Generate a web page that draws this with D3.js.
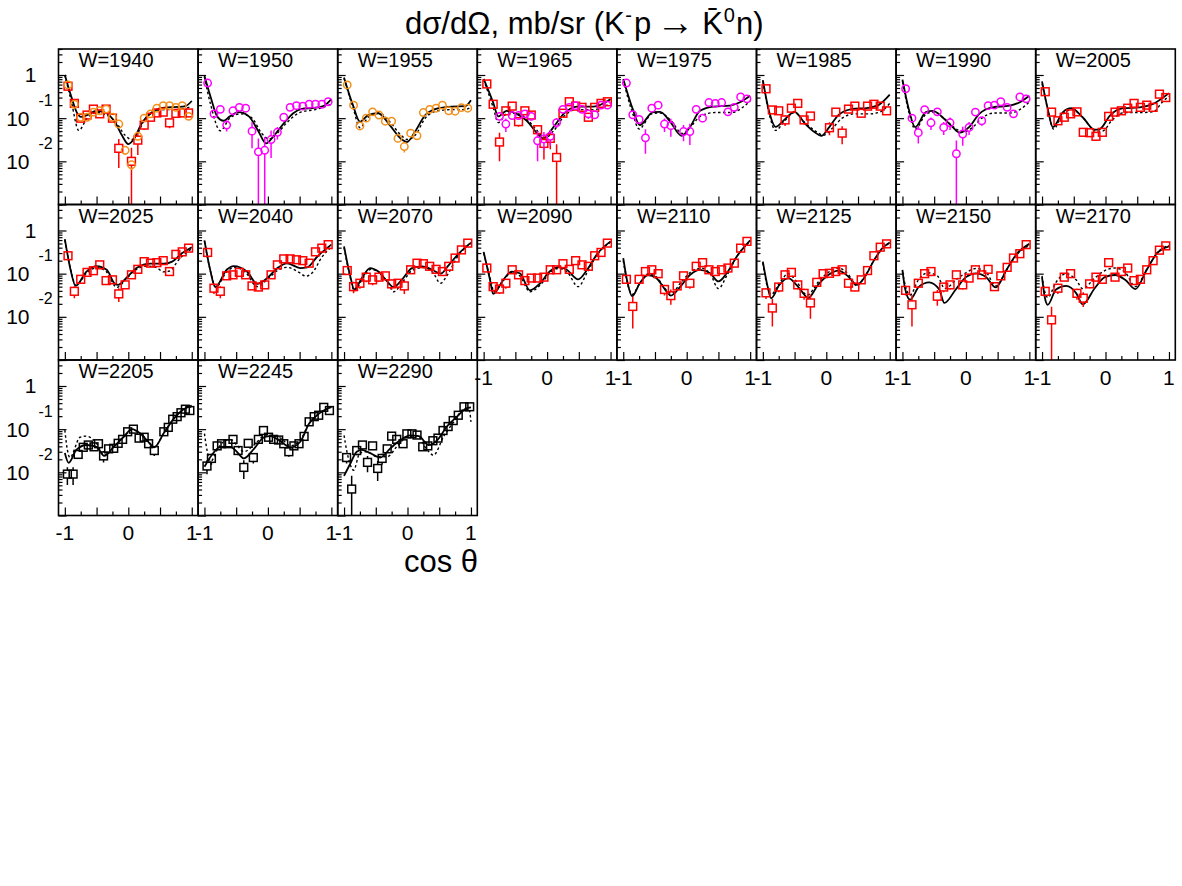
<!DOCTYPE html>
<html><head><meta charset="utf-8">
<script src="https://cdn.jsdelivr.net/npm/d3@7"></script>
<style>
body{margin:0;background:#fff}
svg{display:block}
text{font-family:"Liberation Sans",Arial,Helvetica,sans-serif;fill:#000}
</style>
</head><body>
<svg id="c" width="1182" height="886"></svg>
<script>
// ---------- DATA: [cos theta, dsigma/dOmega (mb/sr), error] ----------
const energies = ["1940","1950","1955","1965","1975","1985","1990","2005","2025","2040","2070","2090","2110","2125","2150","2170","2205","2245","2290"];

const red1940 = [[-0.95,0.55,0.08],[-0.85,0.22,0.03],[-0.75,0.10,0.02],[-0.65,0.118,0.02],[-0.55,0.162,0.025],[-0.45,0.126,0.025],[-0.35,0.162,0.025],[-0.25,0.10,0.015],[-0.15,0.020,0.013],[0.05,0.010,0.0105],[0.15,0.031,0.017],[0.25,0.069,0.015],[0.35,0.105,0.02],[0.45,0.132,0.02],[0.55,0.138,0.025],[0.65,0.078,0.02],[0.75,0.129,0.02],[0.85,0.132,0.02],[0.95,0.132,0.02]];
const orn1940 = [[-0.95,0.59,0.05],[-0.85,0.21,0.02],[-0.75,0.105,0.01],[-0.65,0.105,0.01],[-0.55,0.138,0.012],[-0.45,0.148,0.012],[-0.35,0.162,0.012],[-0.25,0.105,0.01],[-0.15,0.073,0.008],[-0.05,0.018,0.004],[0.05,0.0083,0.002],[0.15,0.038,0.005],[0.25,0.10,0.01],[0.35,0.126,0.01],[0.45,0.17,0.012],[0.55,0.195,0.015],[0.65,0.195,0.015],[0.75,0.178,0.015],[0.85,0.195,0.015],[0.95,0.11,0.01]];
const sol1940 = [[-1,1.0],[-0.9,0.32],[-0.8,0.126],[-0.75,0.107],[-0.65,0.118],[-0.5,0.148],[-0.35,0.132],[-0.2,0.076],[-0.1,0.04],[0,0.025],[0.1,0.035],[0.2,0.071],[0.3,0.112],[0.45,0.158],[0.6,0.178],[0.8,0.182],[0.9,0.19],[1,0.25]];
const dsh1940 = [[-1,1.0],[-0.9,0.25],[-0.78,0.052],[-0.65,0.1],[-0.5,0.135],[-0.35,0.12],[-0.2,0.083],[-0.05,0.04],[0.05,0.032],[0.15,0.045],[0.25,0.089],[0.4,0.138],[0.6,0.158],[0.8,0.158],[1,0.19]];

const mag1950 = [[-0.95,0.65,0.06],[-0.85,0.126,0.02],[-0.75,0.16,0.02],[-0.65,0.069,0.02],[-0.55,0.148,0.02],[-0.45,0.178,0.02],[-0.35,0.17,0.02],[-0.25,0.05,0.03],[-0.15,0.0166,0.017],[-0.05,0.018,0.0185],[0.05,0.032,0.02],[0.15,0.047,0.015],[0.25,0.105,0.02],[0.35,0.178,0.02],[0.45,0.195,0.02],[0.55,0.19,0.02],[0.65,0.21,0.02],[0.75,0.21,0.02],[0.85,0.21,0.02],[0.95,0.24,0.02]];
const sol1950 = [[-1,0.95],[-0.9,0.3],[-0.8,0.11],[-0.7,0.087],[-0.6,0.11],[-0.46,0.138],[-0.3,0.11],[-0.15,0.05],[-0.03,0.026],[0.1,0.04],[0.26,0.079],[0.4,0.13],[0.52,0.162],[0.78,0.178],[0.9,0.2],[1,0.275]];
const dsh1950 = [[-1,0.9],[-0.9,0.2],[-0.75,0.051],[-0.6,0.1],[-0.43,0.126],[-0.25,0.1],[-0.1,0.045],[0.02,0.033],[0.15,0.045],[0.3,0.079],[0.5,0.135],[0.78,0.162],[1,0.21]];

const orn1955 = [[-0.95,0.59,0.05],[-0.85,0.20,0.02],[-0.75,0.066,0.008],[-0.65,0.10,0.01],[-0.55,0.14,0.012],[-0.45,0.118,0.01],[-0.35,0.085,0.008],[-0.25,0.085,0.008],[-0.15,0.034,0.005],[-0.05,0.022,0.006],[0.05,0.045,0.006],[0.15,0.039,0.006],[0.25,0.135,0.012],[0.35,0.16,0.012],[0.45,0.17,0.012],[0.55,0.20,0.015],[0.65,0.148,0.012],[0.75,0.145,0.012],[0.85,0.175,0.012],[0.95,0.17,0.012]];
const sol1955 = [[-1,0.87],[-0.86,0.2],[-0.75,0.083],[-0.62,0.118],[-0.46,0.13],[-0.28,0.069],[-0.09,0.032],[-0.01,0.028],[0.12,0.049],[0.28,0.118],[0.49,0.17],[0.7,0.186],[0.91,0.19],[1,0.26]];
const dsh1955 = [[-1,0.83],[-0.85,0.16],[-0.75,0.06],[-0.62,0.105],[-0.45,0.132],[-0.28,0.083],[-0.1,0.04],[0,0.032],[0.12,0.04],[0.28,0.1],[0.45,0.145],[0.7,0.158],[0.9,0.158],[1,0.178]];

const red1965 = [[-0.95,0.62,0.06],[-0.85,0.21,0.03],[-0.75,0.028,0.018],[-0.65,0.148,0.03],[-0.55,0.19,0.03],[-0.45,0.083,0.02],[-0.35,0.148,0.025],[-0.25,0.118,0.02],[-0.15,0.054,0.015],[-0.05,0.026,0.015],[0.05,0.034,0.015],[0.15,0.0123,0.0125],[0.25,0.13,0.02],[0.35,0.24,0.03],[0.45,0.19,0.03],[0.55,0.178,0.025],[0.65,0.105,0.02],[0.75,0.178,0.025],[0.85,0.22,0.03],[0.95,0.24,0.03]];
const mag1965 = [[-0.75,0.11,0.02],[-0.65,0.073,0.025],[-0.55,0.115,0.02],[-0.45,0.115,0.02],[-0.35,0.126,0.02],[-0.25,0.11,0.02],[-0.15,0.030,0.02],[-0.05,0.033,0.015],[0.05,0.038,0.015],[0.15,0.079,0.02],[0.25,0.16,0.02],[0.35,0.178,0.02],[0.45,0.195,0.02],[0.55,0.16,0.02],[0.65,0.126,0.03],[0.75,0.12,0.02],[0.85,0.2,0.02],[0.95,0.2,0.02]];
const sol1965 = [[-1,0.81],[-0.85,0.23],[-0.77,0.11],[-0.64,0.148],[-0.48,0.126],[-0.32,0.087],[-0.17,0.047],[-0.06,0.034],[0.1,0.062],[0.26,0.126],[0.47,0.186],[0.73,0.186],[1,0.275]];
const dsh1965 = [[-1,0.79],[-0.85,0.178],[-0.77,0.079],[-0.62,0.132],[-0.45,0.126],[-0.3,0.089],[-0.15,0.05],[-0.03,0.035],[0.1,0.05],[0.27,0.112],[0.47,0.158],[0.73,0.158],[1,0.22]];

const mag1975 = [[-0.95,0.65,0.06],[-0.85,0.12,0.02],[-0.75,0.093,0.015],[-0.65,0.035,0.02],[-0.55,0.17,0.02],[-0.45,0.20,0.02],[-0.35,0.073,0.025],[-0.25,0.067,0.03],[-0.05,0.049,0.02],[0.05,0.049,0.025],[0.15,0.16,0.03],[0.25,0.10,0.02],[0.35,0.23,0.02],[0.45,0.22,0.02],[0.55,0.23,0.02],[0.65,0.14,0.02],[0.75,0.178,0.02],[0.85,0.31,0.03],[0.95,0.28,0.03]];
const sol1975 = [[-1,0.81],[-0.85,0.162],[-0.74,0.069],[-0.53,0.138],[-0.42,0.14],[-0.27,0.087],[-0.08,0.039],[0.05,0.062],[0.21,0.148],[0.42,0.186],[0.68,0.195],[0.84,0.234],[1,0.33]];
const dsh1975 = [[-1,0.76],[-0.85,0.126],[-0.75,0.056],[-0.55,0.126],[-0.42,0.132],[-0.25,0.089],[-0.07,0.044],[0.05,0.06],[0.22,0.112],[0.45,0.135],[0.7,0.135],[1,0.25]];

const red1985 = [[-0.95,0.48,0.06],[-0.85,0.155,0.025],[-0.75,0.148,0.025],[-0.65,0.091,0.025],[-0.55,0.17,0.025],[-0.45,0.22,0.03],[-0.35,0.091,0.02],[-0.25,0.112,0.02],[0.05,0.06,0.02],[0.15,0.138,0.025],[0.25,0.045,0.02],[0.35,0.162,0.025],[0.45,0.19,0.03],[0.55,0.13,0.02],[0.65,0.19,0.03],[0.75,0.21,0.03],[0.85,0.19,0.03],[0.95,0.148,0.025]];
const sol1985 = [[-1,0.76],[-0.9,0.14],[-0.8,0.063],[-0.65,0.095],[-0.5,0.14],[-0.34,0.076],[-0.18,0.047],[-0.08,0.039],[0.05,0.063],[0.19,0.118],[0.4,0.162],[0.66,0.174],[0.82,0.2],[1,0.35]];
const dsh1985 = [[-1,0.71],[-0.9,0.126],[-0.8,0.052],[-0.65,0.089],[-0.5,0.135],[-0.34,0.079],[-0.15,0.048],[-0.05,0.04],[0.1,0.059],[0.25,0.1],[0.45,0.126],[0.7,0.126],[0.85,0.14],[1,0.22]];

const mag1990 = [[-0.95,0.48,0.05],[-0.85,0.10,0.02],[-0.75,0.046,0.02],[-0.65,0.158,0.02],[-0.55,0.078,0.025],[-0.45,0.14,0.02],[-0.35,0.061,0.02],[-0.25,0.078,0.025],[-0.15,0.015,0.0152],[-0.05,0.043,0.02],[0.05,0.061,0.02],[0.15,0.138,0.02],[0.25,0.087,0.02],[0.35,0.195,0.02],[0.45,0.20,0.02],[0.55,0.24,0.02],[0.65,0.178,0.02],[0.75,0.126,0.025],[0.85,0.31,0.03],[0.95,0.28,0.03]];
const sol1990 = [[-1,0.78],[-0.9,0.162],[-0.8,0.062],[-0.63,0.138],[-0.52,0.148],[-0.37,0.105],[-0.21,0.062],[-0.1,0.046],[0.05,0.062],[0.21,0.126],[0.42,0.178],[0.69,0.195],[0.85,0.234],[1,0.33]];
const dsh1990 = [[-1,0.71],[-0.9,0.14],[-0.8,0.056],[-0.62,0.126],[-0.5,0.138],[-0.35,0.1],[-0.18,0.06],[-0.05,0.048],[0.1,0.06],[0.25,0.1],[0.45,0.132],[0.7,0.132],[0.85,0.158],[1,0.24]];

const red2005 = [[-0.95,0.41,0.05],[-0.85,0.138,0.02],[-0.75,0.087,0.015],[-0.65,0.105,0.015],[-0.55,0.126,0.02],[-0.45,0.14,0.02],[-0.35,0.047,0.008],[-0.25,0.046,0.008],[-0.15,0.038,0.008],[-0.05,0.047,0.008],[0.05,0.11,0.015],[0.15,0.138,0.02],[0.25,0.148,0.02],[0.35,0.17,0.02],[0.45,0.22,0.025],[0.55,0.178,0.02],[0.65,0.20,0.025],[0.75,0.178,0.02],[0.85,0.36,0.04],[0.95,0.30,0.035]];
const sol2005 = [[-1,0.71],[-0.91,0.162],[-0.83,0.062],[-0.67,0.138],[-0.54,0.17],[-0.36,0.105],[-0.17,0.054],[-0.09,0.056],[0.07,0.115],[0.28,0.17],[0.54,0.178],[0.75,0.214],[1,0.38]];
const dsh2005 = [[-1,0.63],[-0.9,0.14],[-0.82,0.056],[-0.67,0.126],[-0.52,0.158],[-0.35,0.1],[-0.15,0.05],[-0.05,0.05],[0.1,0.089],[0.3,0.135],[0.55,0.135],[0.75,0.14],[0.9,0.24],[1,0.32]];

const red2025 = [[-0.95,0.26,0.04],[-0.85,0.039,0.012],[-0.75,0.074,0.015],[-0.65,0.107,0.015],[-0.55,0.117,0.015],[-0.45,0.16,0.02],[-0.35,0.069,0.012],[-0.25,0.072,0.012],[-0.15,0.034,0.012],[-0.05,0.055,0.01],[0.05,0.094,0.015],[0.15,0.126,0.015],[0.25,0.19,0.02],[0.35,0.175,0.02],[0.45,0.18,0.02],[0.55,0.20,0.02],[0.65,0.112,0.015],[0.75,0.28,0.03],[0.85,0.32,0.03],[0.95,0.39,0.04]];
const sol2025 = [[-1,0.63],[-0.91,0.123],[-0.83,0.052],[-0.66,0.112],[-0.5,0.15],[-0.34,0.123],[-0.21,0.058],[-0.16,0.055],[-0.02,0.083],[0.13,0.135],[0.35,0.17],[0.56,0.17],[0.69,0.19],[0.85,0.3],[1,0.41]];
const dsh2025 = [[-1,0.6],[-0.9,0.112],[-0.83,0.054],[-0.65,0.105],[-0.5,0.138],[-0.35,0.112],[-0.18,0.048],[-0.05,0.071],[0.1,0.118],[0.3,0.15],[0.45,0.138],[0.55,0.11],[0.65,0.115],[0.8,0.214],[1,0.38]];

const red2040 = [[-0.95,0.31,0.04],[-0.85,0.046,0.012],[-0.75,0.039,0.012],[-0.65,0.089,0.015],[-0.55,0.094,0.015],[-0.45,0.107,0.015],[-0.35,0.094,0.015],[-0.25,0.052,0.01],[-0.15,0.049,0.01],[-0.05,0.055,0.01],[0.05,0.094,0.015],[0.15,0.16,0.02],[0.25,0.22,0.025],[0.35,0.22,0.025],[0.45,0.21,0.02],[0.55,0.20,0.02],[0.65,0.175,0.02],[0.75,0.32,0.03],[0.85,0.39,0.04],[0.95,0.47,0.05]];
const sol2040 = [[-1,0.59],[-0.91,0.123],[-0.83,0.049],[-0.65,0.123],[-0.54,0.15],[-0.33,0.112],[-0.17,0.058],[-0.01,0.079],[0.15,0.135],[0.3,0.174],[0.51,0.135],[0.62,0.14],[0.78,0.25],[1,0.47]];
const dsh2040 = [[-1,0.56],[-0.9,0.107],[-0.82,0.049],[-0.65,0.11],[-0.52,0.14],[-0.35,0.107],[-0.17,0.05],[-0.02,0.071],[0.15,0.118],[0.3,0.14],[0.5,0.105],[0.6,0.087],[0.7,0.105],[0.85,0.24],[1,0.42]];

const red2070 = [[-0.95,0.118,0.02],[-0.85,0.05,0.015],[-0.75,0.06,0.015],[-0.65,0.083,0.02],[-0.55,0.072,0.018],[-0.45,0.083,0.018],[-0.35,0.089,0.018],[-0.25,0.058,0.015],[-0.15,0.06,0.015],[-0.05,0.052,0.018],[0.05,0.123,0.02],[0.15,0.175,0.025],[0.25,0.17,0.02],[0.35,0.148,0.02],[0.45,0.126,0.02],[0.55,0.112,0.02],[0.65,0.148,0.02],[0.75,0.23,0.03],[0.85,0.355,0.04],[0.95,0.51,0.05]];
const sol2070 = [[-1,0.43],[-0.9,0.085],[-0.84,0.043],[-0.72,0.079],[-0.59,0.135],[-0.46,0.112],[-0.32,0.066],[-0.22,0.049],[-0.09,0.072],[0.07,0.135],[0.23,0.148],[0.39,0.123],[0.52,0.10],[0.65,0.158],[0.81,0.295],[1,0.525]];
const dsh2070 = [[-1,0.4],[-0.9,0.079],[-0.84,0.04],[-0.7,0.079],[-0.58,0.126],[-0.45,0.107],[-0.3,0.06],[-0.22,0.038],[-0.08,0.063],[0.07,0.118],[0.25,0.138],[0.4,0.107],[0.52,0.06],[0.62,0.089],[0.8,0.263],[1,0.5]];

const red2090 = [[-0.95,0.135,0.02],[-0.85,0.05,0.012],[-0.75,0.044,0.01],[-0.65,0.06,0.015],[-0.55,0.123,0.015],[-0.45,0.094,0.015],[-0.35,0.069,0.012],[-0.25,0.079,0.012],[-0.15,0.079,0.012],[-0.05,0.083,0.012],[0.05,0.123,0.015],[0.15,0.123,0.015],[0.25,0.17,0.02],[0.35,0.126,0.015],[0.45,0.20,0.02],[0.55,0.16,0.02],[0.65,0.148,0.02],[0.75,0.26,0.03],[0.85,0.31,0.03],[0.95,0.51,0.05]];
const sol2090 = [[-1,0.32],[-0.9,0.072],[-0.85,0.034],[-0.69,0.072],[-0.56,0.112],[-0.43,0.102],[-0.27,0.041],[-0.11,0.06],[0.04,0.112],[0.18,0.141],[0.31,0.123],[0.49,0.074],[0.63,0.123],[0.78,0.275],[1,0.56]];
const dsh2090 = [[-1,0.3],[-0.88,0.063],[-0.84,0.038],[-0.7,0.066],[-0.56,0.107],[-0.43,0.089],[-0.27,0.038],[-0.1,0.056],[0.05,0.107],[0.18,0.132],[0.32,0.107],[0.49,0.05],[0.63,0.105],[0.78,0.263],[1,0.54]];

const red2110 = [[-0.95,0.074,0.015],[-0.85,0.0174,0.012],[-0.75,0.074,0.015],[-0.65,0.112,0.015],[-0.55,0.123,0.015],[-0.45,0.10,0.015],[-0.35,0.043,0.012],[-0.25,0.031,0.012],[-0.15,0.052,0.012],[-0.05,0.089,0.015],[0.05,0.06,0.015],[0.15,0.148,0.02],[0.25,0.18,0.02],[0.35,0.123,0.015],[0.45,0.112,0.015],[0.55,0.123,0.015],[0.65,0.135,0.015],[0.75,0.175,0.02],[0.85,0.39,0.04],[0.95,0.56,0.05]];
const sol2110 = [[-1,0.23],[-0.93,0.06],[-0.86,0.03],[-0.74,0.06],[-0.61,0.093],[-0.48,0.079],[-0.32,0.039],[-0.25,0.031],[-0.1,0.05],[0.05,0.093],[0.21,0.123],[0.37,0.102],[0.5,0.066],[0.63,0.102],[0.79,0.25],[1,0.59]];
const dsh2110 = [[-1,0.2],[-0.92,0.05],[-0.86,0.033],[-0.73,0.063],[-0.6,0.1],[-0.48,0.085],[-0.32,0.042],[-0.24,0.035],[-0.1,0.06],[0.05,0.105],[0.22,0.135],[0.37,0.1],[0.5,0.045],[0.63,0.089],[0.79,0.25],[1,0.56]];

const red2125 = [[-0.95,0.036,0.01],[-0.85,0.016,0.01],[-0.75,0.049,0.012],[-0.65,0.094,0.015],[-0.55,0.107,0.015],[-0.45,0.055,0.012],[-0.35,0.035,0.01],[-0.25,0.021,0.012],[-0.15,0.063,0.012],[-0.05,0.10,0.015],[0.05,0.102,0.015],[0.15,0.112,0.015],[0.25,0.123,0.015],[0.35,0.06,0.012],[0.45,0.049,0.01],[0.55,0.072,0.012],[0.65,0.118,0.015],[0.75,0.26,0.03],[0.85,0.41,0.04],[0.95,0.49,0.05]];
const sol2125 = [[-1,0.19],[-0.93,0.055],[-0.87,0.027],[-0.74,0.055],[-0.6,0.079],[-0.47,0.055],[-0.34,0.032],[-0.29,0.027],[-0.13,0.055],[0.03,0.093],[0.19,0.118],[0.35,0.085],[0.48,0.055],[0.61,0.085],[0.74,0.19],[0.87,0.37],[1,0.525]];
const dsh2125 = [[-1,0.178],[-0.93,0.05],[-0.87,0.033],[-0.73,0.063],[-0.6,0.1],[-0.47,0.066],[-0.3,0.032],[-0.13,0.063],[0.03,0.107],[0.19,0.135],[0.35,0.095],[0.48,0.052],[0.61,0.089],[0.74,0.19],[0.87,0.355],[1,0.525]];

const red2150 = [[-0.95,0.041,0.01],[-0.85,0.019,0.013],[-0.75,0.06,0.012],[-0.65,0.10,0.015],[-0.55,0.112,0.015],[-0.45,0.03,0.012],[-0.35,0.049,0.012],[-0.25,0.055,0.012],[-0.15,0.094,0.015],[-0.05,0.055,0.012],[0.05,0.079,0.012],[0.15,0.123,0.015],[0.25,0.094,0.015],[0.35,0.126,0.015],[0.45,0.05,0.01],[0.55,0.089,0.015],[0.65,0.14,0.02],[0.75,0.23,0.025],[0.85,0.29,0.03],[0.95,0.47,0.04]];
const sol2150 = [[-1,0.123],[-0.96,0.046],[-0.88,0.025],[-0.74,0.05],[-0.58,0.063],[-0.42,0.043],[-0.34,0.021],[-0.16,0.043],[0,0.083],[0.16,0.102],[0.32,0.083],[0.47,0.048],[0.64,0.123],[0.79,0.275],[1,0.49]];
const dsh2150 = [[-1,0.112],[-0.95,0.05],[-0.88,0.032],[-0.75,0.071],[-0.6,0.105],[-0.45,0.089],[-0.33,0.045],[-0.16,0.071],[0,0.105],[0.16,0.132],[0.32,0.107],[0.47,0.052],[0.64,0.12],[0.79,0.263],[1,0.45]];

const red2170 = [[-0.95,0.039,0.01],[-0.85,0.0085,0.0087],[-0.75,0.046,0.012],[-0.65,0.083,0.015],[-0.55,0.10,0.015],[-0.45,0.035,0.01],[-0.35,0.027,0.01],[-0.25,0.058,0.012],[-0.15,0.083,0.015],[-0.05,0.074,0.012],[0.05,0.18,0.02],[0.15,0.083,0.012],[0.25,0.112,0.015],[0.35,0.135,0.015],[0.45,0.069,0.012],[0.55,0.074,0.012],[0.65,0.123,0.015],[0.75,0.20,0.02],[0.85,0.35,0.03],[0.95,0.44,0.04]];
const sol2170 = [[-1,0.083],[-0.96,0.03],[-0.91,0.019],[-0.78,0.043],[-0.62,0.052],[-0.46,0.035],[-0.36,0.0195],[-0.17,0.046],[-0.01,0.083],[0.15,0.093],[0.31,0.072],[0.47,0.044],[0.65,0.123],[0.81,0.295],[1,0.43]];
const dsh2170 = [[-1,0.089],[-0.96,0.04],[-0.91,0.028],[-0.78,0.063],[-0.62,0.1],[-0.46,0.071],[-0.36,0.045],[-0.17,0.079],[-0.01,0.118],[0.15,0.135],[0.31,0.107],[0.47,0.05],[0.65,0.126],[0.81,0.3],[1,0.45]];

const blk2205 = [[-0.96,0.0091,0.004],[-0.87,0.0091,0.004],[-0.79,0.026,0.005],[-0.71,0.038,0.007],[-0.63,0.043,0.007],[-0.54,0.039,0.007],[-0.47,0.046,0.008],[-0.39,0.024,0.007],[-0.31,0.035,0.007],[-0.23,0.036,0.006],[-0.16,0.047,0.007],[-0.09,0.058,0.008],[-0.01,0.087,0.01],[0.08,0.10,0.012],[0.17,0.062,0.01],[0.25,0.065,0.01],[0.32,0.046,0.008],[0.41,0.032,0.008],[0.56,0.087,0.012],[0.63,0.11,0.012],[0.7,0.17,0.02],[0.77,0.195,0.02],[0.83,0.24,0.025],[0.9,0.29,0.03],[0.97,0.27,0.04]];
const sol2205 = [[-1,0.028],[-0.94,0.0166],[-0.82,0.033],[-0.66,0.043],[-0.5,0.039],[-0.38,0.024],[-0.23,0.039],[-0.08,0.065],[0.06,0.10],[0.19,0.079],[0.29,0.056],[0.41,0.038],[0.56,0.081],[0.72,0.178],[0.85,0.275],[1,0.35]];
const dsh2205 = [[-1,0.095],[-0.96,0.033],[-0.92,0.022],[-0.76,0.065],[-0.66,0.069],[-0.5,0.047],[-0.38,0.025],[-0.23,0.039],[-0.08,0.065],[0.06,0.095],[0.19,0.079],[0.29,0.058],[0.41,0.039],[0.56,0.081],[0.72,0.178],[0.85,0.275],[1,0.33]];

const blk2245 = [[-0.96,0.014,0.005],[-0.89,0.021,0.006],[-0.8,0.041,0.007],[-0.73,0.046,0.007],[-0.63,0.046,0.007],[-0.55,0.058,0.008],[-0.47,0.032,0.007],[-0.38,0.013,0.006],[-0.31,0.047,0.008],[-0.23,0.022,0.006],[-0.15,0.058,0.008],[-0.07,0.093,0.01],[0.01,0.065,0.008],[0.09,0.058,0.008],[0.17,0.056,0.008],[0.25,0.046,0.008],[0.33,0.030,0.007],[0.41,0.041,0.007],[0.49,0.046,0.007],[0.57,0.068,0.01],[0.65,0.148,0.015],[0.73,0.195,0.02],[0.8,0.21,0.02],[0.88,0.32,0.03],[0.97,0.27,0.04]];
const sol2245 = [[-1,0.0135],[-0.86,0.028],[-0.75,0.039],[-0.59,0.039],[-0.49,0.03],[-0.38,0.021],[-0.22,0.035],[-0.06,0.065],[0.04,0.069],[0.17,0.056],[0.36,0.038],[0.51,0.051],[0.65,0.135],[0.78,0.214],[1,0.33]];
const dsh2245 = [[-1,0.079],[-0.96,0.033],[-0.9,0.018],[-0.8,0.033],[-0.7,0.051],[-0.59,0.058],[-0.49,0.043],[-0.38,0.03],[-0.22,0.043],[-0.06,0.069],[0.07,0.072],[0.2,0.062],[0.36,0.041],[0.51,0.056],[0.65,0.135],[0.78,0.214],[1,0.32]];

const blk2290 = [[-0.96,0.022,0.006],[-0.88,0.0041,0.0042],[-0.8,0.032,0.007],[-0.71,0.043,0.007],[-0.63,0.017,0.007],[-0.55,0.041,0.007],[-0.47,0.0123,0.006],[-0.4,0.021,0.006],[-0.32,0.035,0.007],[-0.25,0.069,0.008],[-0.17,0.058,0.008],[-0.07,0.046,0.008],[-0.01,0.078,0.009],[0.07,0.078,0.009],[0.15,0.073,0.009],[0.24,0.039,0.007],[0.32,0.041,0.007],[0.4,0.054,0.008],[0.48,0.062,0.008],[0.56,0.093,0.01],[0.64,0.115,0.012],[0.72,0.158,0.015],[0.8,0.21,0.02],[0.89,0.33,0.03],[0.98,0.33,0.03]];
const sol2290 = [[-1,0.0083],[-0.9,0.016],[-0.8,0.03],[-0.72,0.033],[-0.59,0.028],[-0.43,0.022],[-0.27,0.036],[-0.11,0.056],[0.04,0.072],[0.18,0.069],[0.33,0.043],[0.47,0.056],[0.62,0.115],[0.78,0.195],[0.92,0.3],[1,0.32]];
const dsh2290 = [[-1,0.072],[-0.96,0.033],[-0.9,0.0148],[-0.85,0.0112],[-0.75,0.028],[-0.64,0.03],[-0.48,0.023],[-0.32,0.023],[-0.17,0.039],[-0.01,0.065],[0.15,0.069],[0.31,0.033],[0.41,0.025],[0.57,0.068],[0.73,0.148],[0.89,0.29],[0.97,0.29],[1,0.148]];

// tick labels
const xTickValues = [-1, 0, 1];
const xTickLabels = ["-1", "0", "1"];
const yTickValues = [1, 0.1, 0.01];
const yTickBase = ["1", "10", "10"];
const yTickExp = ["", "-1", "-2"];

// ---------- TABLE built from arrays ----------
const RED="#ff0000", ORN="#f39019", MAG="#ff00ff", BLK="#000000";
const panels = [
 {w:"1940", sets:[[red1940,"sq",RED],[orn1940,"ci",ORN]], sol:sol1940, dsh:dsh1940},
 {w:"1950", sets:[[mag1950,"ci",MAG]], sol:sol1950, dsh:dsh1950},
 {w:"1955", sets:[[orn1955,"ci",ORN]], sol:sol1955, dsh:dsh1955},
 {w:"1965", sets:[[red1965,"sq",RED],[mag1965,"ci",MAG]], sol:sol1965, dsh:dsh1965},
 {w:"1975", sets:[[mag1975,"ci",MAG]], sol:sol1975, dsh:dsh1975},
 {w:"1985", sets:[[red1985,"sq",RED]], sol:sol1985, dsh:dsh1985},
 {w:"1990", sets:[[mag1990,"ci",MAG]], sol:sol1990, dsh:dsh1990},
 {w:"2005", sets:[[red2005,"sq",RED]], sol:sol2005, dsh:dsh2005},
 {w:"2025", sets:[[red2025,"sq",RED]], sol:sol2025, dsh:dsh2025},
 {w:"2040", sets:[[red2040,"sq",RED]], sol:sol2040, dsh:dsh2040},
 {w:"2070", sets:[[red2070,"sq",RED]], sol:sol2070, dsh:dsh2070},
 {w:"2090", sets:[[red2090,"sq",RED]], sol:sol2090, dsh:dsh2090},
 {w:"2110", sets:[[red2110,"sq",RED]], sol:sol2110, dsh:dsh2110},
 {w:"2125", sets:[[red2125,"sq",RED]], sol:sol2125, dsh:dsh2125},
 {w:"2150", sets:[[red2150,"sq",RED]], sol:sol2150, dsh:dsh2150},
 {w:"2170", sets:[[red2170,"sq",RED]], sol:sol2170, dsh:dsh2170},
 {w:"2205", sets:[[blk2205,"sq",BLK]], sol:sol2205, dsh:dsh2205},
 {w:"2245", sets:[[blk2245,"sq",BLK]], sol:sol2245, dsh:dsh2245},
 {w:"2290", sets:[[blk2290,"sq",BLK]], sol:sol2290, dsh:dsh2290}
];

// ---------- LAYOUT ----------
const L0 = 58.5, T0 = 49, PW = 139.6, PH = 155.5, NCOL = 8;
const svg = d3.select("#c");
const x = d3.scaleLinear().domain([-1.1, 1.1]).range([0, PW]);
const y = d3.scaleLog().domain([0.001, 4]).range([PH, 0]);
const allY = y.ticks();
const majY = allY.filter(v => Math.abs(Math.log10(v) - Math.round(Math.log10(v))) < 1e-9);
const minY = allY.filter(v => !majY.includes(v));
const majX = [-1, -0.5, 0, 0.5, 1], minX = [-0.75, -0.25, 0.25, 0.75];

const line = d3.line().x(d => x(d[0])).y(d => y(d[1])).curve(d3.curveMonotoneX);

svg.append("rect").attr("width",1182).attr("height",886).attr("fill","#fff");

// Title (pieces chained left to right)
const tg = svg.append("g");
const TB = 34;
let tx = 405;
const tpiece = (gap, dy, fs, s, fam) => {
  const t = tg.append("text").attr("x", tx + gap).attr("y", TB + dy).attr("font-size", fs).text(s);
  if (fam) t.attr("font-family", fam);
  tx = tx + gap + t.node().getComputedTextLength();
  return t;
};
tpiece(0, 0, 31, "dσ/dΩ, mb/sr (K");
tpiece(0.5, -12, 20, "-");
tpiece(2, 0, 31, "p");
tpiece(5, 1, 38, "\u2192", "DejaVu Sans");
tpiece(8, 0, 31, "K\u0304");
tpiece(1, -12, 20, "0");
tpiece(1, 0, 31, "n)");

panels.forEach((p, i) => {
  const col = i % NCOL, row = Math.floor(i / NCOL);
  const g = svg.append("g").attr("transform", `translate(${L0 + col*PW},${T0 + row*PH})`);
  const cid = "clip" + i;
  g.append("clipPath").attr("id", cid).append("rect").attr("width", PW).attr("height", PH);

  // ticks (inside the frame)
  g.append("g").call(d3.axisLeft(y).tickValues(majY).tickSizeInner(-8).tickSizeOuter(0).tickFormat(""))
    .call(a => a.select(".domain").remove()).selectAll("line").attr("stroke","#000").attr("stroke-width",1.2);
  g.append("g").call(d3.axisLeft(y).tickValues(minY).tickSizeInner(-4).tickSizeOuter(0).tickFormat(""))
    .call(a => a.select(".domain").remove()).selectAll("line").attr("stroke","#000").attr("stroke-width",1.2);
  const gb = g.append("g").attr("transform", `translate(0,${PH})`);
  gb.append("g").call(d3.axisBottom(x).tickValues(majX).tickSizeInner(-8).tickSizeOuter(0).tickFormat(""))
    .call(a => a.select(".domain").remove()).selectAll("line").attr("stroke","#000").attr("stroke-width",1.2);
  gb.append("g").call(d3.axisBottom(x).tickValues(minX).tickSizeInner(-4).tickSizeOuter(0).tickFormat(""))
    .call(a => a.select(".domain").remove()).selectAll("line").attr("stroke","#000").attr("stroke-width",1.2);

  const inner = g.append("g").attr("clip-path", `url(#${cid})`);
  // curves
  inner.append("path").attr("d", line(p.dsh)).attr("fill","none").attr("stroke","#000")
    .attr("stroke-width",1.4).attr("stroke-dasharray","2.5,2.5");
  inner.append("path").attr("d", line(p.sol)).attr("fill","none").attr("stroke","#000").attr("stroke-width",1.8);

  // data
  p.sets.forEach(([data, m, color]) => {
    const half = m === "sq" ? 3.9 : 3.7;
    data.forEach(([c, v, e]) => {
      const cx = x(c), cy = y(v);
      const yt = y(v + e);
      const yb = (v - e) > 0.0009 ? y(v - e) : PH + 5;
      if (cy - yt > half) inner.append("line").attr("x1",cx).attr("x2",cx).attr("y1",yt).attr("y2",cy-half).attr("stroke",color).attr("stroke-width",1.5);
      if (yb - cy > half) inner.append("line").attr("x1",cx).attr("x2",cx).attr("y1",cy+half).attr("y2",yb).attr("stroke",color).attr("stroke-width",1.5);
      if (m === "sq") inner.append("rect").attr("x",cx-half).attr("y",cy-half).attr("width",2*half).attr("height",2*half)
        .attr("fill","none").attr("stroke",color).attr("stroke-width",1.5);
      else inner.append("circle").attr("cx",cx).attr("cy",cy).attr("r",half).attr("fill","none").attr("stroke",color).attr("stroke-width",1.5);
    });
  });

  // frame
  g.append("rect").attr("width",PW).attr("height",PH).attr("fill","none").attr("stroke","#000").attr("stroke-width",1.6);

  // panel label
  g.append("text").attr("x",20).attr("y",18).attr("font-size",20).text("W=" + p.w);

  // y labels (first column)
  if (col === 0) {
    yTickValues.forEach((v, k) => {
      const ty = y(v);
      if (yTickExp[k] === "") {
        g.append("text").attr("x",-22).attr("y",ty+7.5).attr("text-anchor","end").attr("font-size",21).text(yTickBase[k]);
      } else {
        g.append("text").attr("x",-29).attr("y",ty+7.5).attr("text-anchor","end").attr("font-size",21).text(yTickBase[k]);
        g.append("text").attr("x",-20).attr("y",ty-12.5).attr("text-anchor","start").attr("font-size",16).text(yTickExp[k]);
      }
    });
  }
  // x labels (bottom-most panel in each column)
  const below = i + NCOL;
  if (below >= panels.length) {
    xTickValues.forEach((v, k) => {
      g.append("text").attr("x", x(v)).attr("y", PH + 24.5).attr("text-anchor","middle").attr("font-size",21).text(xTickLabels[k]);
    });
  }
});

// x-axis title
svg.append("text").attr("x", 478).attr("y", 572).attr("text-anchor","end").attr("font-size",31).text("cos θ");
</script>
</body></html>
